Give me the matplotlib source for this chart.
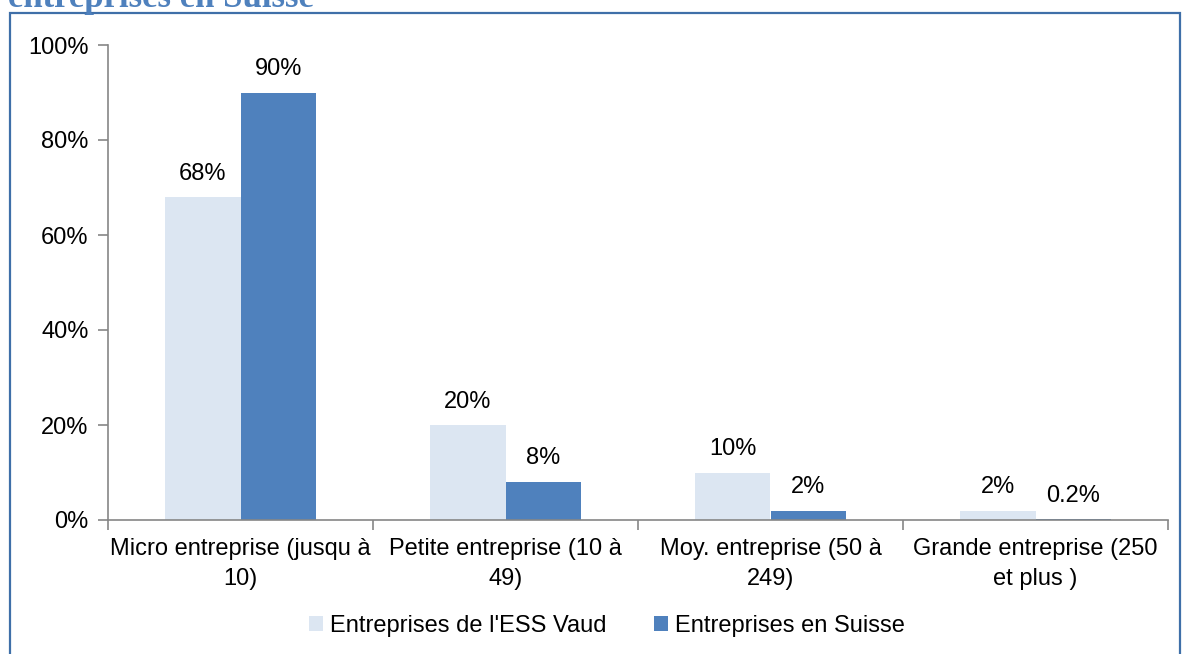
import matplotlib.pyplot as plt
import numpy as np
from matplotlib.patches import Rectangle


categories = ["Micro entreprise (jusqu à\n10)", "Petite entreprise (10 à\n49)",
              "Moy. entreprise (50 à\n249)", "Grande entreprise (250\net plus )"]
ess_vaud = [68, 20, 10, 2]
suisse = [90, 8, 2, 0.2]
ess_labels = ["68%", "20%", "10%", "2%"]
suisse_labels = ["90%", "8%", "2%", "0.2%"]
series_names = ["Entreprises de l'ESS Vaud", "Entreprises en Suisse"]

light = '#DCE6F2'
dark = '#4F81BD'
axis_col = '#868686'
fs = 17

plt.rcParams['font.family'] = ['Liberation Sans', 'DejaVu Sans']

fig = plt.figure(figsize=(11.83, 6.54), dpi=100)
ax = fig.add_axes([108 / 1183, 1 - 520 / 654, (1168 - 108) / 1183, (520 - 45) / 654])

x = np.arange(len(categories))
w = 0.285
b1 = ax.bar(x - w / 2, ess_vaud, w, color=light, label=series_names[0])
b2 = ax.bar(x + w / 2, suisse, w, color=dark, label=series_names[1])

for bars, labels in ((b1, ess_labels), (b2, suisse_labels)):
    for bar, lab in zip(bars, labels):
        ax.annotate(lab, (bar.get_x() + bar.get_width() / 2, bar.get_height()),
                    xytext=(0, 9), textcoords='offset points',
                    ha='center', va='bottom', fontsize=fs)

ax.set_xlim(-0.5, len(categories) - 0.5)
ax.set_ylim(0, 100)
ax.set_yticks(range(0, 101, 20))
ax.set_yticklabels([f"{v}%" for v in range(0, 101, 20)], fontsize=fs)

ax.set_xticks(np.arange(-0.5, len(categories), 1))
ax.set_xticklabels([])
ax.set_xticks(x, minor=True)
ax.set_xticklabels(categories, minor=True, fontsize=fs, linespacing=1.45)
ax.tick_params(axis='x', which='minor', length=0, pad=13)
ax.tick_params(axis='x', which='major', length=7, color=axis_col, width=1.2)
ax.tick_params(axis='y', length=7, color=axis_col, width=1.2, pad=7)

for s in ('top', 'right'):
    ax.spines[s].set_visible(False)
for s in ('left', 'bottom'):
    ax.spines[s].set_color(axis_col)
    ax.spines[s].set_linewidth(1.2)

ax.legend(loc='center', bbox_to_anchor=(607 / 1183, 1 - 626 / 654), bbox_transform=fig.transFigure,
          ncol=2, frameon=False, fontsize=fs, handlelength=0.6, handleheight=0.6,
          handletextpad=0.3, columnspacing=2.0)

# outer frame of the chart
fig.patches.append(Rectangle((10 / 1183, -0.05), (1180 - 10) / 1183, 1.05 - 13 / 654,
                             transform=fig.transFigure, fill=False,
                             edgecolor='#3F6FA8', linewidth=1.6))

# title clipped at top of image
fig.text(8 / 1183, 1 - 7 / 654, "entreprises en Suisse", fontsize=25, fontweight='bold',
         family=['Liberation Serif', 'DejaVu Serif'], color=dark, ha='left', va='baseline')

fig.savefig("out.png", dpi=100)
